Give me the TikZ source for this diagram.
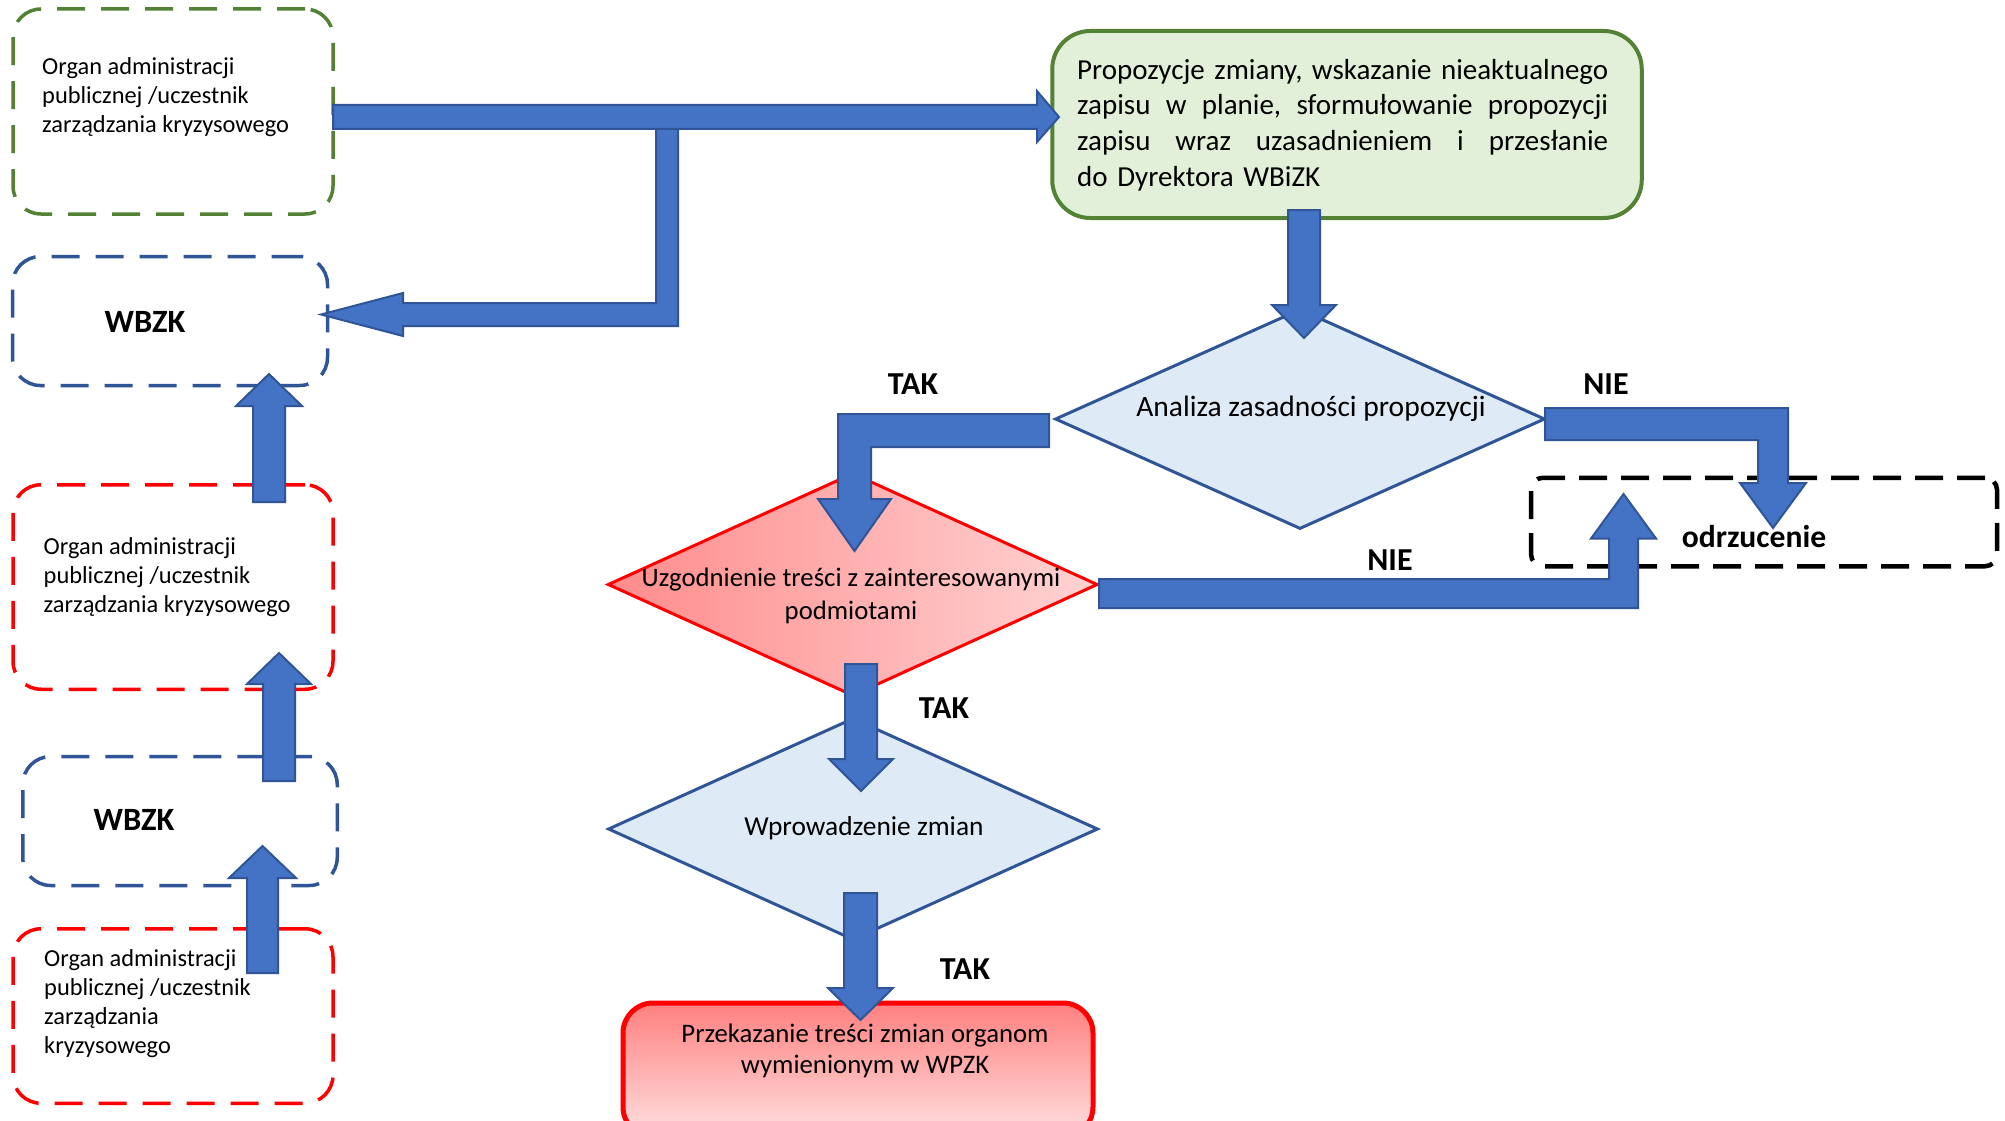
\documentclass[tikz,border=0pt]{standalone}
\usepackage{fontspec}
\setmainfont{Carlito}
\usetikzlibrary{shapes.geometric}
\definecolor{arrowblue}{HTML}{4472C4}
\definecolor{edgeblue}{HTML}{2F5597}
\definecolor{darkgreen}{HTML}{548235}
\definecolor{palegreen}{HTML}{E2F0D9}
\definecolor{paleblue}{HTML}{DEEBF7}
\definecolor{rosered}{HTML}{FF8C8C}
\definecolor{palered}{HTML}{FFD3D3}

\begin{document}
\begin{tikzpicture}[x=1pt,y=-1pt,
	dashbox/.style={draw,line width=3.5pt,dash pattern=on 28pt off 16pt,rounded corners=28pt,minimum width=320pt},
	decision/.style={diamond,draw=edgeblue,fill=paleblue,line width=3pt,aspect=2.25,inner sep=0pt,minimum width=490pt,minimum height=220pt},
	blockarrow/.style={fill=arrowblue,draw=edgeblue,line width=2pt,line join=miter},
	orgtext/.style={inner sep=0pt,align=left,anchor=west,font=\fontsize{24.4}{29}\selectfont},
	heading/.style={inner sep=0pt,font=\fontsize{32.5}{38}\selectfont\bfseries},
	answer/.style={inner sep=0pt,font=\fontsize{32}{38}\selectfont\bfseries}]
\useasboundingbox (0,0) rectangle (2005,1121);
\clip (0,0) rectangle (2005,1121);

\node[dashbox,draw=darkgreen,minimum height=205pt] (organ) at (173,111.5) {};
\node[dashbox,draw=edgeblue,minimum width=315pt,minimum height=129pt] (wbzk) at (170,321) {};
\node[dashbox,draw=red,minimum height=204.5pt] (organb) at (173,587) {};
\node[dashbox,draw=edgeblue,minimum width=314.5pt,minimum height=129pt] (wbzkb) at (180,821) {};
\node[dashbox,draw=red,minimum height=174.5pt] (organc) at (173,1016) {};

\node[draw=darkgreen,fill=palegreen,line width=4pt,rounded corners=38pt,minimum width=589.5pt,minimum height=187pt] (prop) at (1347,124.5) {};
\node[decision] (analiza) at (1300,419) {};
\node[decision,draw=red,left color=rosered,right color=palered,minimum height=223pt] (uzgod) at (852.75,584.5) {};
\node[decision,minimum height=222pt] (wprow) at (853,829) {};
\node[draw=red,line width=5pt,rounded corners=30pt,top color=red!50,bottom color=red!12,minimum width=470pt,minimum height=134pt] (przek) at (858,1070) {};
\node[draw,line width=4.5pt,dash pattern=on 28pt off 14pt,rounded corners=12pt,minimum width=466pt,minimum height=88.5pt] (odrz) at (1764,522) {};

\draw[blockarrow] (656,120) -- (678,120) -- (678,326) -- (403,326) -- (403,336) -- (321,314.5) -- (403,293) -- (403,303) -- (656,303) -- cycle;
\draw[blockarrow] (333,105) -- (1037,105) -- (1037,91) -- (1059,117) -- (1037,142) -- (1037,129) -- (333,129) -- cycle;
\draw[blockarrow] (253,502) -- (253,406) -- (236,406) -- (269,374) -- (302,406) -- (285,406) -- (285,502) -- cycle;
\draw[blockarrow] (263,781) -- (263,684) -- (247,684) -- (279,653) -- (311,684) -- (295,684) -- (295,781) -- cycle;
\draw[blockarrow] (247,973) -- (247,878) -- (229,878) -- (262.5,846) -- (296,878) -- (278,878) -- (278,973) -- cycle;
\draw[blockarrow] (1288,210) -- (1320,210) -- (1320,305) -- (1336,305) -- (1304,338) -- (1272,305) -- (1288,305) -- cycle;
\draw[blockarrow] (1049,414) -- (1049,447) -- (871,447) -- (871,499) -- (891,499) -- (854.5,551) -- (818,499) -- (838,499) -- (838,414) -- cycle;
\draw[blockarrow] (1545,408) -- (1788,408) -- (1788,483) -- (1806,483) -- (1773,528) -- (1740,483) -- (1758,483) -- (1758,440) -- (1545,440) -- cycle;
\draw[blockarrow] (1099,579) -- (1609,579) -- (1609,538.5) -- (1591,538.5) -- (1623.5,494) -- (1656,538.5) -- (1638,538.5) -- (1638,608) -- (1099,608) -- cycle;
\draw[blockarrow] (845,664) -- (877,664) -- (877,759) -- (893,759) -- (861,791) -- (829,759) -- (845,759) -- cycle;
\draw[blockarrow] (844,893) -- (877,893) -- (877,988) -- (893,988) -- (860.5,1020) -- (828,988) -- (844,988) -- cycle;

\node[orgtext] (organtxt) at (42,97) {Organ administracji\\publicznej /uczestnik\\zarządzania kryzysowego};
\node[heading] (wbzktxt) at (145,322) {WBZK};
\node[orgtext] (organbtxt) at (43.5,577) {Organ administracji\\publicznej /uczestnik\\zarządzania kryzysowego};
\node[heading] (wbzkbtxt) at (134,820) {WBZK};
\node[orgtext] (organctxt) at (44,1004) {Organ administracji\\publicznej /uczestnik\\zarządzania\\kryzysowego};
\node[inner sep=0pt,text width=531pt,align=left,anchor=west,font=\fontsize{29}{35.7}\selectfont] (proptxt) at (1077,125) {\makebox[531pt]{Propozycje\hfill zmiany,\hfill wskazanie\hfill nieaktualnego}\\\makebox[531pt]{zapisu\hfill w\hfill planie,\hfill sformułowanie\hfill propozycji}\\\makebox[531pt]{zapisu\hfill wraz\hfill uzasadnieniem\hfill i\hfill przesłanie}\\do Dyrektora WBiZK};
\node[inner sep=0pt,font=\fontsize{29.5}{35}\selectfont] (analizatxt) at (1311,409) {Analiza zasadności propozycji};
\node[inner sep=0pt,align=center,font=\fontsize{26.7}{33}\selectfont] (uzgodtxt) at (851,596) {Uzgodnienie treści z zainteresowanymi\\podmiotami};
\node[inner sep=0pt,font=\fontsize{27.4}{32}\selectfont] (wprowtxt) at (864,828) {Wprowadzenie zmian};
\node[inner sep=0pt,align=center,font=\fontsize{26.75}{31}\selectfont] (przektxt) at (865,1051) {Przekazanie treści zmian organom\\wymienionym w WPZK};
\node[answer] (tak) at (913,384) {TAK};
\node[answer] (nie) at (1606,384) {NIE};
\node[answer] (nieb) at (1390,560) {NIE};
\node[answer] (takb) at (944,708) {TAK};
\node[answer] (takc) at (965,969) {TAK};
\node[inner sep=0pt,font=\fontsize{31.6}{36}\selectfont\bfseries] (odrztxt) at (1754,537) {odrzucenie};
\end{tikzpicture}
\end{document}
